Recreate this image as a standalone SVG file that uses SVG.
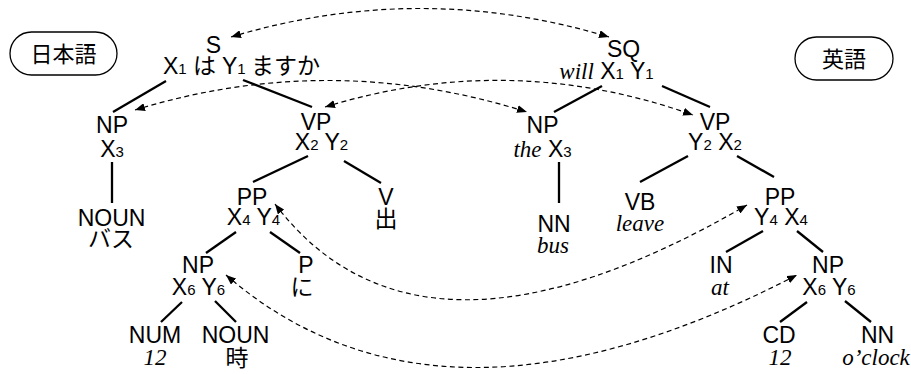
<svg xmlns="http://www.w3.org/2000/svg" width="911" height="374" viewBox="0 0 911 374">
<style>
text{font-family:"Liberation Sans",Arial,sans-serif;font-size:23px;fill:#000}
.m{text-anchor:middle}
.sub{font-size:15px}
.it{font-family:"Liberation Serif","Times New Roman",serif;font-style:italic}
.ja{font-family:"Noto Sans CJK JP",sans-serif}
.edge{stroke:#000;stroke-width:2.3;fill:none}
.link{stroke:#000;stroke-width:1.2;fill:none;stroke-dasharray:5 3.5;marker-start:url(#ah);marker-end:url(#ah)}
.box{fill:#fff;stroke:#000;stroke-width:1.3}
</style>
<defs>
<marker id="ah" viewBox="0 0 10 8" refX="10" refY="4" markerWidth="10" markerHeight="8" markerUnits="userSpaceOnUse" orient="auto-start-reverse">
<path d="M0,0 L10,4 L0,8 Z" fill="#000"/>
</marker>
</defs>

<g id="label-ja">
<rect class="box" x="10" y="32" width="107" height="43" rx="21.5"/>
<text class="ja m" x="63.5" y="62" style="font-size:22px">日本語</text>
</g>
<g id="label-en">
<rect class="box" x="795" y="37" width="98" height="43" rx="21.5"/>
<text class="ja m" x="844" y="67" style="font-size:22px">英語</text>
</g>

<g id="edges">
<line class="edge" x1="166" y1="81" x2="113" y2="112"/>
<line class="edge" x1="243" y1="80" x2="312" y2="107"/>
<line class="edge" x1="112" y1="162" x2="112" y2="203"/>
<line class="edge" x1="308" y1="156" x2="253" y2="182"/>
<line class="edge" x1="344" y1="161" x2="381" y2="183"/>
<line class="edge" x1="236" y1="232" x2="206" y2="253"/>
<line class="edge" x1="270" y1="232" x2="300" y2="253"/>
<line class="edge" x1="182" y1="302" x2="161" y2="322"/>
<line class="edge" x1="215" y1="301" x2="236" y2="322"/>
<line class="edge" x1="602" y1="86" x2="554" y2="112"/>
<line class="edge" x1="662" y1="86" x2="710" y2="107"/>
<line class="edge" x1="559" y1="162" x2="559" y2="203"/>
<line class="edge" x1="688" y1="156" x2="640" y2="182"/>
<line class="edge" x1="737" y1="156" x2="774" y2="177"/>
<line class="edge" x1="763" y1="231" x2="726" y2="252"/>
<line class="edge" x1="797" y1="231" x2="823" y2="252"/>
<line class="edge" x1="807" y1="302" x2="780" y2="322"/>
<line class="edge" x1="845" y1="301" x2="871" y2="322"/>
</g>

<g id="links">
<path class="link" d="M231,37 Q420,-20 609,37"/>
<path class="link" d="M135,110 Q330,50 527,112"/>
<path class="link" d="M325,107 Q510,50 693,115"/>
<path class="link" d="M275,204 Q420,395 747,205"/>
<path class="link" d="M226,275 Q440,460 797,275"/>
</g>

<g id="ja-S">
<text class="m" x="213.5" y="53">S</text>
<text x="163" y="74">X<tspan class="sub">1</tspan><tspan class="ja" x="193">は</tspan><tspan x="222">Y</tspan><tspan class="sub">1</tspan><tspan class="ja" x="251">ますか</tspan></text>
</g>
<g id="ja-NP">
<text class="m" x="112" y="133">NP</text>
<text class="m" x="112" y="157">X<tspan class="sub">3</tspan></text>
</g>
<g id="ja-VP">
<text class="m" x="316" y="130">VP</text>
<text class="m" x="321.5" y="150">X<tspan class="sub">2</tspan> Y<tspan class="sub">2</tspan></text>
</g>
<g id="ja-NOUN1">
<text class="m" x="111.5" y="226">NOUN</text>
<text class="m ja" x="111" y="247">バス</text>
</g>
<g id="ja-PP">
<text class="m" x="252" y="205">PP</text>
<text class="m" x="253.5" y="225">X<tspan class="sub">4</tspan> Y<tspan class="sub">4</tspan></text>
</g>
<g id="ja-V">
<text class="m" x="386" y="205">V</text>
<text class="m ja" x="386" y="227">出</text>
</g>
<g id="ja-NP2">
<text class="m" x="198" y="273">NP</text>
<text class="m" x="198.5" y="295">X<tspan class="sub">6</tspan> Y<tspan class="sub">6</tspan></text>
</g>
<g id="ja-P">
<text class="m" x="306" y="273">P</text>
<text class="m ja" x="302" y="295">に</text>
</g>
<g id="ja-NUM">
<text class="m" x="155" y="343">NUM</text>
<text class="m it" x="155" y="365">12</text>
</g>
<g id="ja-NOUN2">
<text class="m" x="235.5" y="343">NOUN</text>
<text class="m ja" x="237" y="366">時</text>
</g>

<g id="en-SQ">
<text class="m" x="623.5" y="57">SQ</text>
<text class="m" x="606.5" y="79"><tspan class="it">will</tspan> X<tspan class="sub">1</tspan> Y<tspan class="sub">1</tspan></text>
</g>
<g id="en-NP">
<text class="m" x="542.5" y="133">NP</text>
<text class="m" x="542.5" y="157"><tspan class="it">the</tspan> X<tspan class="sub">3</tspan></text>
</g>
<g id="en-VP">
<text class="m" x="715" y="130">VP</text>
<text class="m" x="715" y="150">Y<tspan class="sub">2</tspan> X<tspan class="sub">2</tspan></text>
</g>
<g id="en-NN1">
<text class="m" x="554" y="232">NN</text>
<text class="m it" x="553" y="253">bus</text>
</g>
<g id="en-VB">
<text class="m" x="640" y="210">VB</text>
<text class="m it" x="640" y="231">leave</text>
</g>
<g id="en-PP">
<text class="m" x="780" y="205">PP</text>
<text class="m" x="781" y="225">Y<tspan class="sub">4</tspan> X<tspan class="sub">4</tspan></text>
</g>
<g id="en-IN">
<text class="m" x="721" y="273">IN</text>
<text class="m it" x="720" y="295">at</text>
</g>
<g id="en-NP2">
<text class="m" x="828" y="273">NP</text>
<text class="m" x="829" y="295">X<tspan class="sub">6</tspan> Y<tspan class="sub">6</tspan></text>
</g>
<g id="en-CD">
<text class="m" x="779" y="343">CD</text>
<text class="m it" x="780" y="365">12</text>
</g>
<g id="en-NN2">
<text class="m" x="877.5" y="343">NN</text>
<text class="m it" x="876" y="365">o’clock</text>
</g>
</svg>
